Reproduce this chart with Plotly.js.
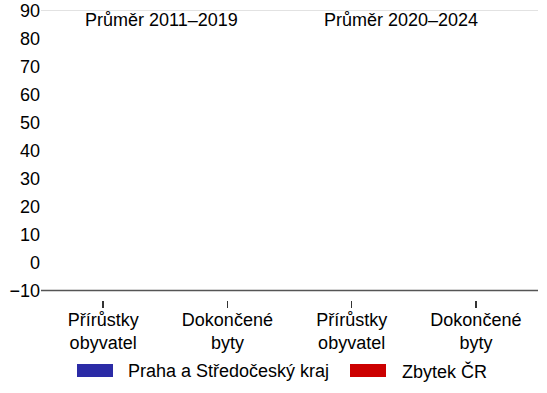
<!DOCTYPE html>
<html>
<head>
<meta charset="utf-8">
<script src="https://cdn.plot.ly/plotly-3.0.1.min.js"></script>
<style>html,body{margin:0;padding:0;background:#fff;}#chart{width:547px;height:393px;}</style>
</head>
<body>
<div id="chart"></div>
<script>
// ---- data ----
const categoryIds = ["p1", "d1", "p2", "d2"];
const categoryLabels = ["Přírůstky<br>obyvatel", "Dokončené<br>byty", "Přírůstky<br>obyvatel", "Dokončené<br>byty"];
const periodTitles = ["Průměr 2011–2019", "Průměr 2020–2024"];
const seriesNames = ["Praha a Středočeský kraj", "Zbytek ČR"];
const seriesColors = ["#2b2ba6", "#cc0000"];
const yTickValues = [-10, 0, 10, 20, 30, 40, 50, 60, 70, 80, 90];
// no bars are visible in the reference: values unreadable / empty
const pragueValues = [null, null, null, null];
const restValues = [null, null, null, null];

const W = 547, H = 393, ML = 41, MR = 9, MT = 10, MB = 93;
const PW = W - ML - MR, PH = H - MT - MB;
const px = v => (v - ML) / PW;
const py = v => (H - MB - v) / PH;

const yMin = yTickValues[0], yMax = yTickValues[yTickValues.length - 1];
const unitPx = 28 / 10;
const yRange = [yMin - 9.5 / unitPx, yMax + 0.5 / unitPx];

const traces = [
  {type: "bar", name: seriesNames[0], x: categoryIds, y: pragueValues, marker: {color: seriesColors[0]}, showlegend: false},
  {type: "bar", name: seriesNames[1], x: categoryIds, y: restValues, marker: {color: seriesColors[1]}, showlegend: false}
];

const font = {family: "Liberation Sans, Arial, sans-serif", size: 18, color: "#000"};

const shapes = [
  // top gridline at 90
  {type: "line", xref: "paper", yref: "y", x0: 0, x1: 1, y0: yMax, y1: yMax, line: {color: "#e2e2e2", width: 1}},
  // axis line at -10
  {type: "line", xref: "paper", yref: "y", x0: 0, x1: 1, y0: yMin, y1: yMin, line: {color: "#555555", width: 1.5}},
  // legend swatches
  {type: "rect", xref: "paper", yref: "paper", x0: px(77), x1: px(113), y0: py(377), y1: py(364), line: {width: 0}, fillcolor: seriesColors[0]},
  {type: "rect", xref: "paper", yref: "paper", x0: px(350), x1: px(386), y0: py(377), y1: py(364), line: {width: 0}, fillcolor: seriesColors[1]}
];

const annotations = [
  {xref: "paper", yref: "paper", x: px(83), y: py(20), xanchor: "left", yanchor: "middle", text: periodTitles[0], showarrow: false, font: font},
  {xref: "paper", yref: "paper", x: px(322), y: py(20), xanchor: "left", yanchor: "middle", text: periodTitles[1], showarrow: false, font: font},
  {xref: "paper", yref: "paper", x: px(126), y: py(371), xanchor: "left", yanchor: "middle", text: seriesNames[0], showarrow: false, font: font},
  {xref: "paper", yref: "paper", x: px(400), y: py(371), xanchor: "left", yanchor: "middle", text: seriesNames[1], showarrow: false, font: font}
];

const layout = {
  width: W, height: H,
  margin: {l: ML, r: MR, t: MT, b: MB},
  paper_bgcolor: "#fff", plot_bgcolor: "#fff",
  font: font,
  showlegend: false,
  barmode: "group",
  xaxis: {
    type: "category", tickmode: "array", tickvals: categoryIds, ticktext: categoryLabels,
    showline: false, showgrid: false, zeroline: false,
    ticks: "outside", ticklen: 7, tickwidth: 1.5, tickcolor: "#333",
    ticklabelstandoff: -4,
    tickfont: font, fixedrange: true
  },
  yaxis: {
    range: yRange, tickmode: "array", tickvals: yTickValues,
    showline: false, showgrid: false, zeroline: false, ticks: "",
    tickfont: font, fixedrange: true
  },
  shapes: shapes,
  annotations: annotations
};

Plotly.newPlot("chart", traces, layout, {displayModeBar: false, staticPlot: true});
</script>
</body>
</html>
